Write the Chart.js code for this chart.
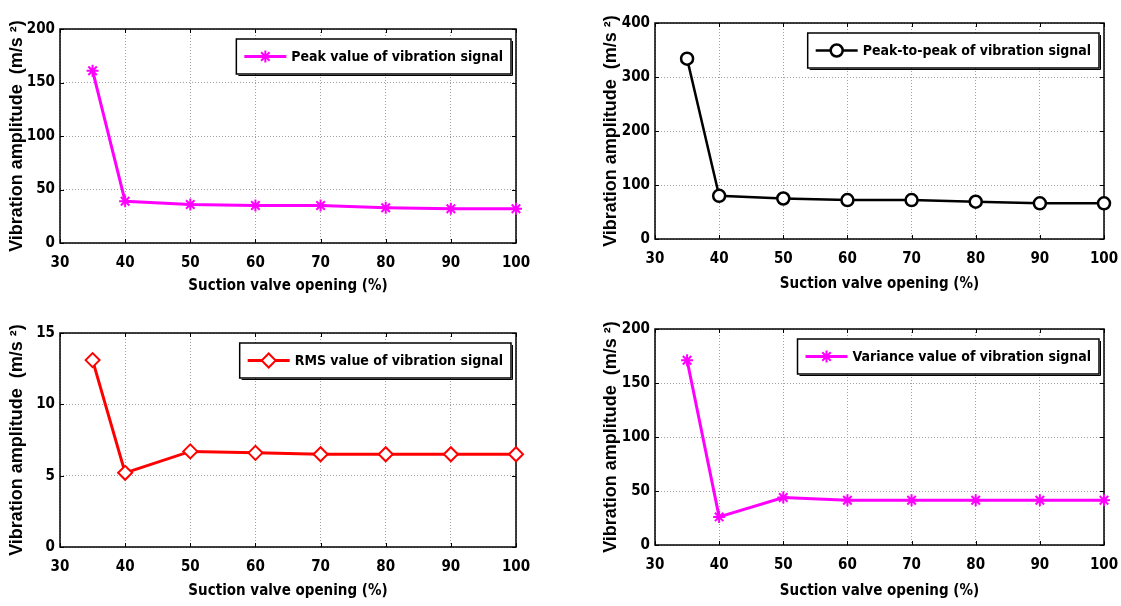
<!DOCTYPE html>
<html>
<head>
<meta charset="utf-8">
<script src="https://cdn.jsdelivr.net/npm/chart.js@4/dist/chart.umd.min.js"></script>
<style>
  html, body { margin: 0; padding: 0; background: #fff; }
  #wrap { position: relative; width: 1121px; height: 606px; overflow: hidden; }
  .panel { position: absolute; }
  .panel canvas { display: block; }
</style>
</head>
<body>
<div id="wrap">
  <div class="panel" style="left:0;top:0;width:560px;height:303px"><canvas id="c1"></canvas></div>
  <div class="panel" style="left:560px;top:0;width:580px;height:303px"><canvas id="c2"></canvas></div>
  <div class="panel" style="left:0;top:303px;width:560px;height:303px"><canvas id="c3"></canvas></div>
  <div class="panel" style="left:560px;top:303px;width:580px;height:303px"><canvas id="c4"></canvas></div>
</div>
<script>
// suction valve opening (%)
const openings = [35, 40, 50, 60, 70, 80, 90, 100];
const peakValues = [161, 39, 36, 35, 35, 33, 32, 32];
const peakToPeakValues = [334, 80, 75, 72, 72, 69, 66, 66];
const rmsValues = [13.1, 5.2, 6.7, 6.6, 6.5, 6.5, 6.5, 6.5];
const varianceValues = [171, 26, 44, 41.5, 41.5, 41.5, 41.5, 41.5];

const xTicks = [30, 40, 50, 60, 70, 80, 90, 100];
const yTicksPeak = [0, 50, 100, 150, 200];
const yTicksP2P = [0, 100, 200, 300, 400];
const yTicksRms = [0, 5, 10, 15];
const yTicksVar = [0, 50, 100, 150, 200];

const NARROW = '"Liberation Sans Narrow", "Arial Narrow", "DejaVu Sans Condensed", sans-serif';
const WIDE = '"Liberation Sans", Arial, sans-serif';
const MAGENTA = '#ff00ff';

// box + inward ticks, drawn under the data like matlab
const boxPlugin = {
  id: 'box',
  beforeDatasetsDraw(chart) {
    const { ctx, chartArea: a, scales } = chart;
    ctx.save();
    ctx.strokeStyle = '#000';
    ctx.lineWidth = 1.5;
    ctx.strokeRect(a.left, a.top, a.right - a.left, a.bottom - a.top);
    ctx.lineWidth = 1;
    ctx.beginPath();
    scales.x.ticks.forEach(t => {
      const px = Math.round(scales.x.getPixelForValue(t.value)) + 0.5;
      ctx.moveTo(px, a.bottom); ctx.lineTo(px, a.bottom - 4);
      ctx.moveTo(px, a.top); ctx.lineTo(px, a.top + 4);
    });
    scales.y.ticks.forEach(t => {
      const py = Math.round(scales.y.getPixelForValue(t.value)) + 0.5;
      ctx.moveTo(a.left, py); ctx.lineTo(a.left + 4, py);
      ctx.moveTo(a.right, py); ctx.lineTo(a.right - 4, py);
    });
    ctx.stroke();
    ctx.restore();
  }
};

// matlab-ish legend box in the top right corner of the axes
const boxLegend = {
  id: 'boxLegend',
  afterDatasetsDraw(chart, args, opts) {
    const { ctx, chartArea: a } = chart;
    const ds = chart.data.datasets[0];
    ctx.save();
    ctx.font = 'bold 14px ' + NARROW;
    const tw = ctx.measureText(ds.label).width;
    const w = 55 + tw + 8, h = 35;
    const x = a.right - opts.right - w, y = a.top + opts.top;
    ctx.fillStyle = '#fff';
    ctx.fillRect(x, y, w, h);
    ctx.strokeStyle = '#000';
    ctx.lineWidth = 1.5;
    ctx.strokeRect(x, y, w, h);
    ctx.lineWidth = 1;
    ctx.beginPath();
    ctx.moveTo(x + w + 1.5, y + 2); ctx.lineTo(x + w + 1.5, y + h + 1.5); ctx.lineTo(x + 2, y + h + 1.5);
    ctx.stroke();
    // sample line + marker
    const cy = y + h / 2;
    ctx.strokeStyle = ds.borderColor;
    ctx.lineWidth = ds.borderWidth;
    ctx.beginPath();
    ctx.moveTo(x + 8, cy); ctx.lineTo(x + 50, cy);
    ctx.stroke();
    if (Chart.helpers && Chart.helpers.drawPoint) {
      ctx.fillStyle = ds.pointBackgroundColor;
      ctx.lineWidth = ds.pointBorderWidth;
      Chart.helpers.drawPoint(ctx, { pointStyle: ds.pointStyle, radius: ds.pointRadius, rotation: 0, borderWidth: ds.pointBorderWidth }, x + 29, cy);
    }
    ctx.fillStyle = '#000';
    ctx.textBaseline = 'middle';
    ctx.fillText(ds.label, x + 55, cy + 1);
    ctx.restore();
  }
};

function makePanel(id, p) {
  const gridOpts = { color: '#a0a0a0', lineWidth: 1, drawTicks: false };
  return new Chart(document.getElementById(id), {
    type: 'line',
    data: {
      datasets: [{
        label: p.label,
        data: openings.map((o, i) => ({ x: o, y: p.values[i] })),
        borderColor: p.color,
        borderWidth: p.lineWidth,
        pointStyle: p.marker,
        pointRadius: p.markerSize,
        pointBorderWidth: p.markerWidth,
        pointBorderColor: p.color,
        pointBackgroundColor: p.markerFill,
        tension: 0,
        clip: false
      }]
    },
    options: {
      responsive: true,
      maintainAspectRatio: false,
      animation: false,
      events: [],
      layout: { padding: { left: p.padLeft, right: p.padRight, top: p.padTop, bottom: 0 } },
      plugins: {
        legend: { display: false },
        tooltip: { enabled: false },
        boxLegend: { right: 5, top: 10 }
      },
      scales: {
        x: {
          type: 'linear',
          min: 30, max: 100,
          afterBuildTicks: s => { s.ticks = xTicks.map(v => ({ value: v })); },
          afterFit: s => { s.height = p.xHeight; },
          grid: gridOpts,
          border: { display: false, dash: [1, 2] },
          ticks: { color: '#000', padding: 11, font: { family: NARROW, size: 15, weight: 'bold' } },
          title: { display: true, text: 'Suction valve opening (%)', color: '#000', padding: { top: 0, bottom: p.titleBottom }, font: { family: NARROW, size: 15, weight: 'bold' } }
        },
        y: {
          type: 'linear',
          min: p.yTicks[0], max: p.yTicks[p.yTicks.length - 1],
          afterBuildTicks: s => { s.ticks = p.yTicks.map(v => ({ value: v })); },
          afterFit: s => { s.width = p.yWidth; },
          grid: gridOpts,
          border: { display: false, dash: [1, 2] },
          ticks: { color: '#000', padding: 5, font: { family: NARROW, size: 15, weight: 'bold' } },
          title: { display: true, text: 'Vibration amplitude  (m/s ²)', color: '#000', padding: 0, font: { family: WIDE, size: 18, weight: 'bold' } }
        }
      }
    },
    plugins: [boxPlugin, boxLegend]
  });
}

makePanel('c1', {
  label: 'Peak value of vibration signal', values: peakValues, yTicks: yTicksPeak,
  color: MAGENTA, lineWidth: 3, marker: 'star', markerSize: 6, markerWidth: 2, markerFill: MAGENTA,
  padLeft: 6, yWidth: 54, padRight: 44, padTop: 29, xHeight: 60, titleBottom: 8
});
makePanel('c2', {
  label: 'Peak-to-peak of vibration signal', values: peakToPeakValues, yTicks: yTicksP2P,
  color: '#000', lineWidth: 2.5, marker: 'circle', markerSize: 6, markerWidth: 2.5, markerFill: '#fff',
  padLeft: 40, yWidth: 55, padRight: 36, padTop: 23, xHeight: 64, titleBottom: 10
});
makePanel('c3', {
  label: 'RMS value of vibration signal', values: rmsValues, yTicks: yTicksRms,
  color: '#ff0000', lineWidth: 3, marker: 'rectRot', markerSize: 7, markerWidth: 2, markerFill: '#fff',
  padLeft: 6, yWidth: 54, padRight: 44, padTop: 30, xHeight: 59, titleBottom: 6
});
makePanel('c4', {
  label: 'Variance value of vibration signal', values: varianceValues, yTicks: yTicksVar,
  color: MAGENTA, lineWidth: 3, marker: 'star', markerSize: 6, markerWidth: 2, markerFill: MAGENTA,
  padLeft: 40, yWidth: 55, padRight: 36, padTop: 26, xHeight: 61, titleBottom: 6
});
</script>
</body>
</html>
